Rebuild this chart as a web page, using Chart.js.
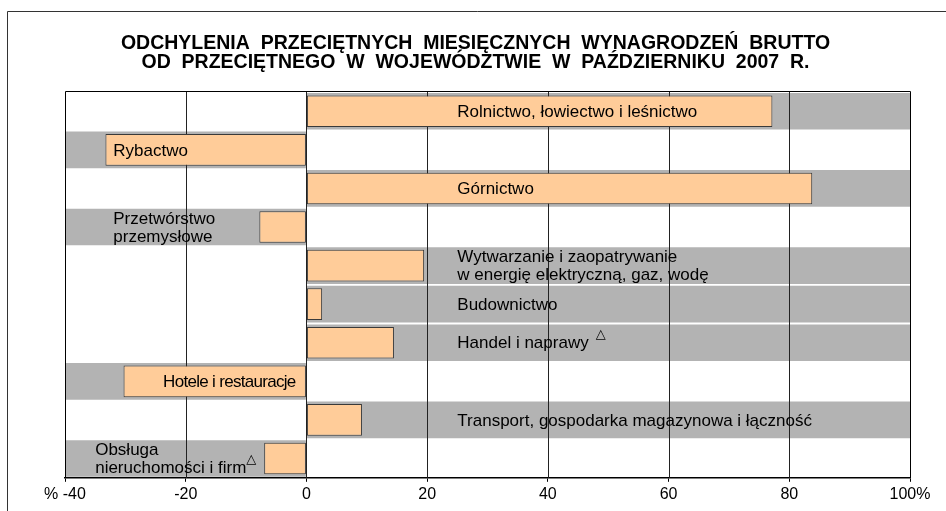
<!DOCTYPE html>
<html>
<head>
<meta charset="utf-8">
<script src="https://cdn.jsdelivr.net/npm/chart.js@4.4.1/dist/chart.umd.min.js"></script>
<style>
  html, body { margin: 0; padding: 0; background: #fff; overflow: hidden; }
  #wrap { width: 946px; height: 511px; }
</style>
</head>
<body>
<div id="wrap"><canvas id="wynagrodzenia" width="946" height="511"></canvas></div>
<script>
var categories = [
  "Rolnictwo, łowiectwo i leśnictwo",
  "Rybactwo",
  "Górnictwo",
  "Przetwórstwo\nprzemysłowe",
  "Wytwarzanie i zaopatrywanie\nw energię elektryczną, gaz, wodę",
  "Budownictwo",
  "Handel i naprawy",
  "Hotele i restauracje",
  "Transport, gospodarka magazynowa i łączność",
  "Obsługa\nnieruchomości i firm"
];
var notes = ["", "", "", "", "", "", "△", "", "", "△"];
var deviations = [77.2, -33.3, 83.8, -7.8, 19.5, 2.6, 14.5, -30.3, 9.2, -7.0];
var bands = [100, -40, 100, -40, 100, 100, 100, -40, 100, -40];
var tickValues = [-40, -20, 0, 20, 40, 60, 80, 100];

var FONT = "'Liberation Sans', Arial, 'DejaVu Sans', sans-serif";

// where each bar label sits: x value of the anchor, alignment, letter spacing
var labelPlace = [
  [25, "left", 0], [-32, "left", 0], [25, "left", 0], [-32, "left", 0], [25, "left", 0],
  [25, "left", 0], [25, "left", 0], [-1.8, "right", -0.7], [25, "left", 0], [-35, "left", 0]
];

var frameAndGrid = {
  id: "frameAndGrid",
  beforeDraw: function(chart) {
    var ctx = chart.ctx;
    ctx.save();
    ctx.strokeStyle = "#333";
    ctx.lineWidth = 1;
    ctx.beginPath();
    ctx.moveTo(7.5, 520);
    ctx.lineTo(7.5, 11.5);
    ctx.lineTo(960, 11.5);
    ctx.stroke();
    ctx.restore();
  },
  // grid goes over the grey bands but under the orange bars
  beforeDatasetDraw: function(chart, args) {
    if (args.index !== 0) return;
    var ctx = chart.ctx, a = chart.chartArea, x = chart.scales.x;
    ctx.save();
    ctx.strokeStyle = "#222";
    ctx.lineWidth = 1;
    for (var i = 1; i < tickValues.length - 1; i++) {
      var px = Math.round(x.getPixelForValue(tickValues[i])) + 0.5;
      ctx.beginPath();
      ctx.moveTo(px, a.top);
      ctx.lineTo(px, a.bottom);
      ctx.stroke();
    }
    ctx.restore();
  },
  afterDatasetsDraw: function(chart) {
    var ctx = chart.ctx, a = chart.chartArea, x = chart.scales.x, y = chart.scales.y;
    ctx.save();
    ctx.strokeStyle = "#000";
    ctx.lineWidth = 1;
    ctx.beginPath();
    ctx.moveTo(Math.round(a.left) + 0.5, a.bottom);
    ctx.lineTo(Math.round(a.left) + 0.5, Math.round(a.top) - 0.5);
    ctx.lineTo(Math.round(a.right) + 0.5, Math.round(a.top) - 0.5);
    ctx.lineTo(Math.round(a.right) + 0.5, a.bottom);
    ctx.stroke();

    ctx.fillStyle = "#000";
    ctx.textBaseline = "middle";
    for (var i = 0; i < categories.length; i++) {
      var lines = categories[i].split("\n");
      var px = x.getPixelForValue(labelPlace[i][0]);
      var cy = y.getPixelForValue(i) + 1;
      ctx.font = "17px " + FONT;
      ctx.letterSpacing = labelPlace[i][2] + "px";
      ctx.textAlign = labelPlace[i][1];
      for (var j = 0; j < lines.length; j++) {
        var ly = cy + (j - (lines.length - 1) / 2) * 18;
        ctx.fillText(lines[j], px, ly);
        if (notes[i] && j === lines.length - 1) {
          var w = ctx.measureText(lines[j]).width;
          var gap = lines.length > 1 ? 0 : 7;
          ctx.save();
          ctx.font = "13px 'DejaVu Sans', sans-serif";
          ctx.textAlign = "left";
          ctx.fillText(notes[i], px + w + gap, ly - 9);
          ctx.restore();
        }
      }
    }
    ctx.letterSpacing = "0px";
    ctx.restore();
  }
};

new Chart(document.getElementById("wynagrodzenia"), {
  type: "bar",
  data: {
    labels: categories,
    datasets: [{
      data: deviations,
      backgroundColor: "#FFCC99",
      borderColor: "#3a3a3a",
      borderWidth: 1,
      borderSkipped: false,
      barPercentage: 0.82,
      categoryPercentage: 1,
      grouped: false
    }, {
      data: bands,
      backgroundColor: "#B3B3B3",
      borderWidth: 0,
      barPercentage: 0.95,
      categoryPercentage: 1,
      grouped: false
    }]
  },
  options: {
    indexAxis: "y",
    responsive: false,
    animation: false,
    layout: { padding: { top: 34, left: 41, right: 36, bottom: 4 } },
    plugins: {
      legend: { display: false },
      tooltip: { enabled: false },
      title: {
        display: true,
        text: ["ODCHYLENIA  PRZECIĘTNYCH  MIESIĘCZNYCH  WYNAGRODZEŃ  BRUTTO",
               "OD  PRZECIĘTNEGO  W  WOJEWÓDZTWIE  W  PAŹDZIERNIKU  2007  R."],
        color: "#000",
        font: { family: FONT, size: 19.5, weight: "bold", lineHeight: "19px" },
        padding: { top: 0, bottom: 20 }
      }
    },
    scales: {
      x: {
        min: -40,
        max: 100,
        afterBuildTicks: function(scale) {
          scale.ticks = tickValues.map(function(v) { return { value: v }; });
        },
        ticks: {
          color: "#000",
          font: { family: FONT, size: 16 },
          padding: 3,
          maxRotation: 0,
          callback: function(v) {
            if (v === -40) return "% -40";
            if (v === 100) return "100%";
            return v;
          }
        },
        grid: { drawOnChartArea: false, drawTicks: true, tickLength: 4, color: "#000" },
        border: { display: true, color: "#000", width: 1.5 }
      },
      y: {
        display: true,
        ticks: { display: false },
        grid: { display: false },
        border: { display: false },
        afterFit: function(scale) { scale.width = 24; }
      }
    }
  },
  plugins: [frameAndGrid]
});
</script>
</body>
</html>
